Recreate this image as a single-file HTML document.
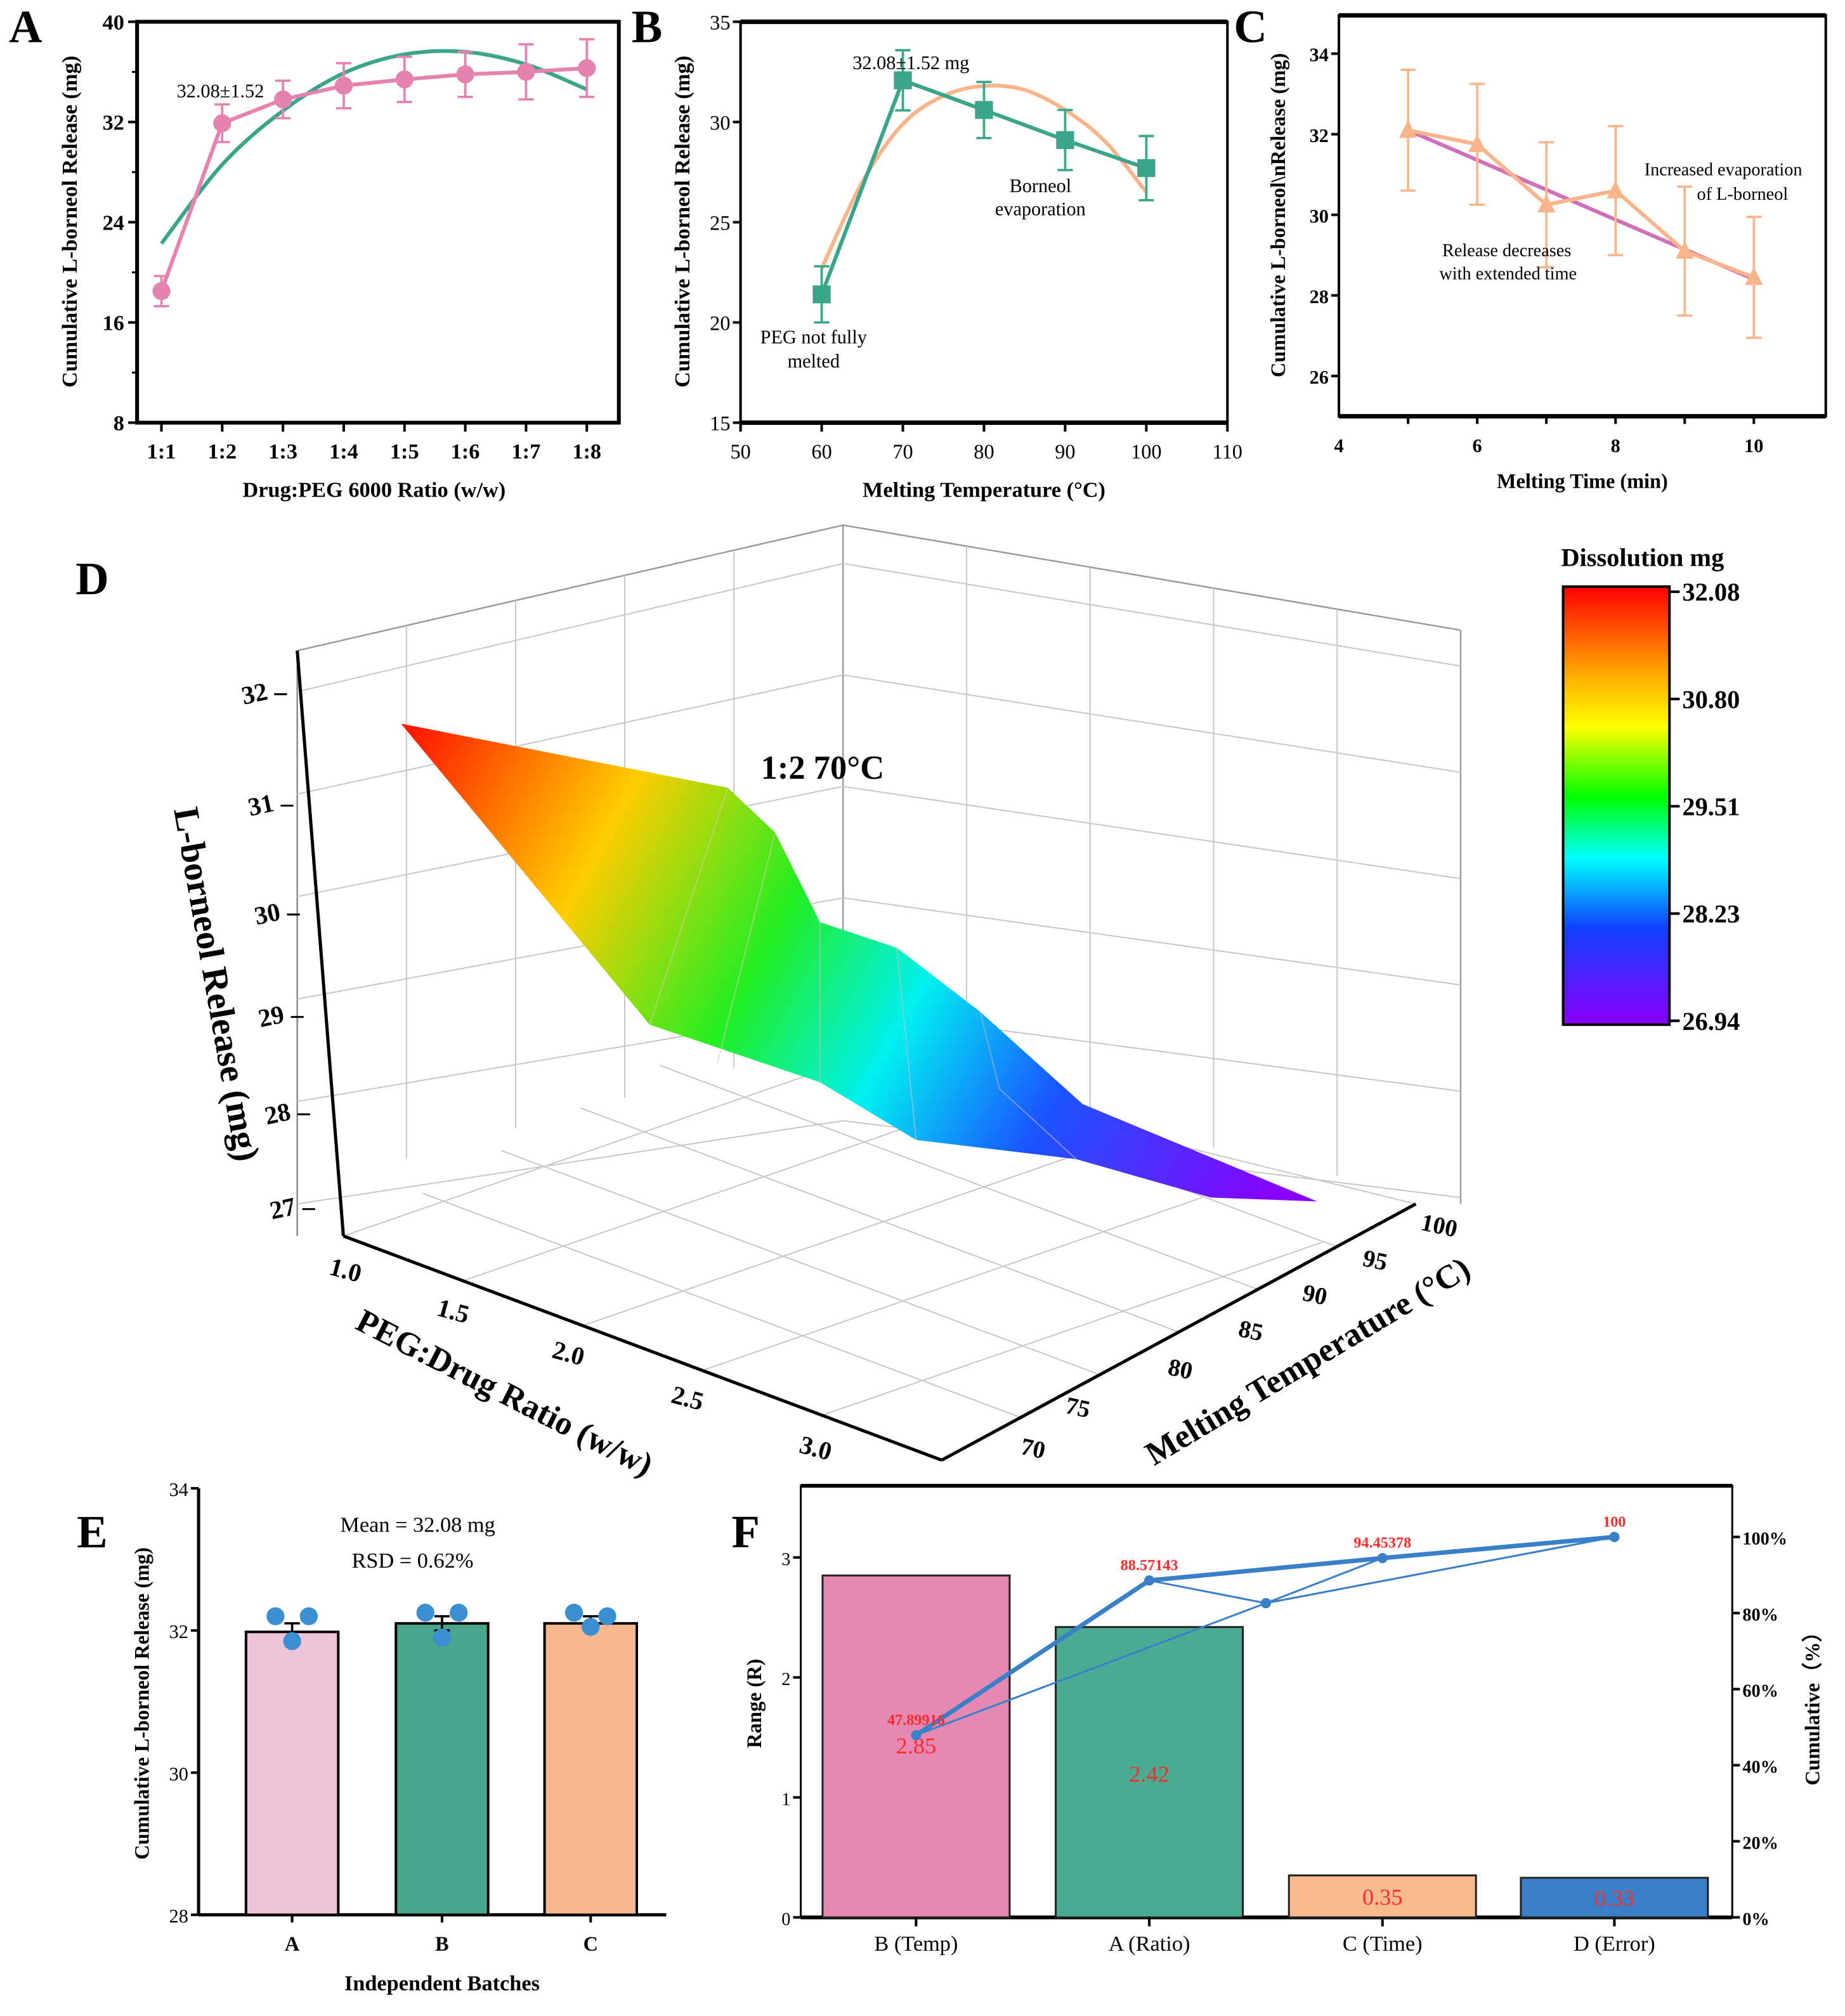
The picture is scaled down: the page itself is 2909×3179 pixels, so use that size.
<!DOCTYPE html>
<html><head><meta charset="utf-8"><style>
html,body{margin:0;padding:0;background:#fff;}
svg{display:block;font-family:"Liberation Serif",serif;}
</style></head><body>
<svg id="fig" width="2909" height="3179" viewBox="0 0 1440 1574" preserveAspectRatio="none" xmlns="http://www.w3.org/2000/svg">
<defs>
<linearGradient id="surfGrad" x1="330" y1="560" x2="1000" y2="930" gradientUnits="userSpaceOnUse">
<stop offset="0" stop-color="#ff1a00"/><stop offset="0.22" stop-color="#ffcc00"/><stop offset="0.42" stop-color="#22ee22"/><stop offset="0.58" stop-color="#00f0f0"/><stop offset="0.75" stop-color="#1a55ff"/><stop offset="1" stop-color="#8a00ff"/>
</linearGradient>
<linearGradient id="cbGrad" x1="0" y1="0" x2="0" y2="1">
<stop offset="0" stop-color="#ff0000"/><stop offset="0.2" stop-color="#ffaa00"/><stop offset="0.32" stop-color="#ffff00"/><stop offset="0.48" stop-color="#00ff00"/><stop offset="0.62" stop-color="#00ffff"/><stop offset="0.78" stop-color="#1040ff"/><stop offset="1" stop-color="#8a00ff"/>
</linearGradient>
</defs>
</svg>
<script>
// ---------- DATA ----------
var aCats = ["1:1","1:2","1:3","1:4","1:5","1:6","1:7","1:8"];
var aVals = [18.5,31.9,33.8,34.9,35.4,35.8,36.0,36.3];
var aErrs = [1.2,1.5,1.5,1.8,1.8,1.8,2.2,2.3];
var aFit = [22.3,28.6,32.9,35.9,37.4,37.6,36.6,34.6];
var aTicks = [8,16,24,32,40];

var bX = [60,70,80,90,100];
var bVals = [21.4,32.08,30.6,29.1,27.7];
var bErrs = [1.4,1.5,1.4,1.5,1.6];
var bFitX = [60,65,70,75,80,85,90,95,100];
var bFit = [22.7,27.0,29.9,31.3,31.8,31.6,30.6,29.0,26.5];
var bXTicks = [50,60,70,80,90,100,110];
var bYTicks = [15,20,25,30,35];

var cX = [5,6,7,8,9,10];
var cVals = [32.1,31.75,30.25,30.6,29.1,28.45];
var cErrs = [1.5,1.5,1.55,1.6,1.6,1.5];
var cFit = [32.1,28.4];
var cXTicks = [4,6,8,10];
var cYTicks = [26,28,30,32,34];

var eCats = ["A","B","C"];
var eVals = [31.98,32.1,32.1];
var eErrs = [0.12,0.1,0.1];
var eDots = [[32.2,32.2,31.85],[32.25,32.25,31.9],[32.25,32.2,32.05]];
var eTicks = [28,30,32,34];

var fCats = ["B (Temp)","A (Ratio)","C (Time)","D (Error)"];
var fVals = [2.85,2.42,0.35,0.33];
var fCum = [47.89916,88.57143,94.45378,100];
var fCumLabels = ["47.89916","88.57143","94.45378","100"];
var fYTicks = [0,1,2,3];
var fRTicks = [0,20,40,60,80,100];

var cbTicks = ["32.08","30.80","29.51","28.23","26.94"];

// ---------- HELPERS ----------
var svg = document.getElementById('fig');
var NS = "http://www.w3.org/2000/svg";
function mk(tag, attrs, name, parent){
  var el = document.createElementNS(NS, tag);
  for (var k in attrs) el.setAttribute(k, attrs[k]);
  
  
  (parent||svg).appendChild(el);
  return el;
}
function txt(x,y,s,size,name,opt){
  opt = opt||{};
  var a = {x:x,y:y,'font-size':size,'text-anchor':opt.anchor||'middle',fill:opt.fill||'#000'};
  if (opt.bold) a['font-weight']='bold';
  if (opt.rot!==undefined) a.transform='rotate('+opt.rot+' '+x+' '+y+')';
  var t = mk('text', a, name);
  t.textContent = s;
  return t;
}
function line(x1,y1,x2,y2,stroke,w,name){ return mk('line',{x1:x1,y1:y1,x2:x2,y2:y2,stroke:stroke,'stroke-width':w},name); }
function lin(d0,d1,p0,p1){ return function(v){ return p0+(v-d0)/(d1-d0)*(p1-p0); }; }
function smooth(pts){
  var d='M'+pts[0][0]+','+pts[0][1];
  for (var i=0;i<pts.length-1;i++){
    var p0=pts[Math.max(0,i-1)],p1=pts[i],p2=pts[i+1],p3=pts[Math.min(pts.length-1,i+2)];
    d+=' C'+(p1[0]+(p2[0]-p0[0])/6)+','+(p1[1]+(p2[1]-p0[1])/6)+' '+(p2[0]-(p3[0]-p1[0])/6)+','+(p2[1]-(p3[1]-p1[1])/6)+' '+p2[0]+','+p2[1];
  }
  return d;
}
function errbar(x,y1,y2,col,name){
  line(x,y1,x,y2,col,1.8,name);
  line(x-6,y1,x+6,y1,col,1.8,name+'-cap-top');
  line(x-6,y2,x+6,y2,col,1.8,name+'-cap-bottom');
}

// ---------- PANEL A ----------
(function(){
  var L=107,R=483,T=17,B=330;
  var sy=lin(8,40,B,T);
  var sx=function(i){ return 126+i*(458-126)/7; };
  mk('rect',{x:L,y:T,width:R-L,height:B-T,fill:'none',stroke:'#000','stroke-width':3},'panel-a-frame');
  aTicks.forEach(function(v){ line(L-7,sy(v),L,sy(v),'#000',2,'a-y-tick'); txt(L-10,sy(v)+6,String(v),17,'a-y-tick-label',{anchor:'end',bold:true}); });
  for (var v=12; v<40; v+=8){ line(L-4,sy(v),L,sy(v),'#000',1.5,'a-y-minor-tick'); }
  aCats.forEach(function(c,i){ line(sx(i),B,sx(i),B+7,'#000',2,'a-x-tick'); txt(sx(i),B+28,c,17,'a-x-tick-label',{bold:true}); });
  mk('path',{d:smooth(aFit.map(function(v,i){return [sx(i),sy(v)];})),fill:'none',stroke:'#3aa58a','stroke-width':3},'a-fit-curve');
  mk('polyline',{points:aVals.map(function(v,i){return sx(i)+','+sy(v);}).join(' '),fill:'none',stroke:'#e582b0','stroke-width':3},'a-data-line');
  aVals.forEach(function(v,i){
    errbar(sx(i),sy(v+aErrs[i]),sy(v-aErrs[i]),'#e582b0','a-error-bar');
    mk('circle',{cx:sx(i),cy:sy(v),r:7,fill:'#e582b0'},'a-point');
  });
  txt(172,76,'32.08±1.52',15,'a-annotation');
  txt(20,33,'A',36,'panel-a-letter',{bold:true});
  txt(60,173,'Cumulative L-borneol Release (mg)',17,'a-y-axis-title',{bold:true,rot:-90});
  txt(292,388,'Drug:PEG 6000 Ratio (w/w)',17,'a-x-axis-title',{bold:true});
})();

// ---------- PANEL B ----------
(function(){
  var L=578,R=958,T=17,B=330;
  var sx=lin(50,110,L,R), sy=lin(15,35,B,T);
  mk('rect',{x:L,y:T,width:R-L,height:B-T,fill:'none',stroke:'#000','stroke-width':2},'panel-b-frame');
  line(L,T,R,T,'#000',3.5,'b-top-border'); line(L,B,R,B,'#000',3.5,'b-bottom-border');
  bYTicks.forEach(function(v){ line(L-6,sy(v),L,sy(v),'#000',2,'b-y-tick'); txt(L-8,sy(v)+6,String(v),16,'b-y-tick-label',{anchor:'end'}); });
  bXTicks.forEach(function(v){ line(sx(v),B,sx(v),B+7,'#000',2,'b-x-tick'); txt(sx(v),B+28,String(v),16,'b-x-tick-label'); });
  mk('path',{d:smooth(bFitX.map(function(x,i){return [sx(x),sy(bFit[i])];})),fill:'none',stroke:'#f8b48a','stroke-width':3},'b-fit-curve');
  mk('polyline',{points:bX.map(function(x,i){return sx(x)+','+sy(bVals[i]);}).join(' '),fill:'none',stroke:'#3aa58a','stroke-width':3},'b-data-line');
  bX.forEach(function(x,i){
    errbar(sx(x),sy(bVals[i]+bErrs[i]),sy(bVals[i]-bErrs[i]),'#3aa58a','b-error-bar');
    mk('rect',{x:sx(x)-7,y:sy(bVals[i])-7,width:14,height:14,fill:'#3aa58a'},'b-point');
  });
  txt(711,54,'32.08±1.52 mg',15,'b-annotation-peak');
  txt(812,150,'Borneol',15,'b-annotation-evap');
  txt(812,168,'evaporation',15,'b-annotation-evap-2');
  txt(635,268,'PEG not fully',15,'b-annotation-peg');
  txt(635,287,'melted',15,'b-annotation-peg-2');
  txt(505,33,'B',36,'panel-b-letter',{bold:true});
  txt(538,173,'Cumulative L-borneol Release (mg)',17,'b-y-axis-title',{bold:true,rot:-90});
  txt(768,388,'Melting Temperature (°C)',17,'b-x-axis-title',{bold:true});
})();

// ---------- PANEL C ----------
(function(){
  var L=1045,R=1425,T=12,B=325;
  var sx=lin(4,11.04,L,R), sy=lin(25,34.95,B,T);
  mk('rect',{x:L,y:T,width:R-L,height:B-T,fill:'none',stroke:'#000','stroke-width':2},'panel-c-frame');
  line(L,T,R,T,'#000',3.5,'c-top-border'); line(L,B,R,B,'#000',3.5,'c-bottom-border');
  cYTicks.forEach(function(v){ line(L-6,sy(v),L,sy(v),'#000',2,'c-y-tick'); txt(L-8,sy(v)+6,String(v),15,'c-y-tick-label',{anchor:'end',bold:true}); });
  for (var t=5;t<=10;t++){ line(sx(t),B,sx(t),B+6,'#000',2,'c-x-tick'); }
  cXTicks.forEach(function(v){ txt(sx(v),B+28,String(v),15,'c-x-tick-label',{bold:true}); });
  line(sx(cX[0]),sy(cFit[0]),sx(cX[cX.length-1]),sy(cFit[1]),'#d070b8',3,'c-fit-line');
  mk('polyline',{points:cX.map(function(x,i){return sx(x)+','+sy(cVals[i]);}).join(' '),fill:'none',stroke:'#f8b48a','stroke-width':3},'c-data-line');
  cX.forEach(function(x,i){
    errbar(sx(x),sy(cVals[i]+cErrs[i]),sy(cVals[i]-cErrs[i]),'#f8b48a','c-error-bar');
    var px=sx(x),py=sy(cVals[i]);
    mk('polygon',{points:px+','+(py-8)+' '+(px-7)+','+(py+6)+' '+(px+7)+','+(py+6),fill:'#f8b48a'},'c-point');
  });
  txt(1345,137,'Increased evaporation',14,'c-annotation-evap');
  txt(1360,156,'of L-borneol',14,'c-annotation-evap-2');
  txt(1176,200,'Release decreases',14,'c-annotation-release');
  txt(1177,218,'with extended time',14,'c-annotation-release-2');
  txt(976,33,'C',36,'panel-c-letter',{bold:true});
  txt(1003,168,'Cumulative L-borneol\\nRelease (mg)',16,'c-y-axis-title',{bold:true,rot:-90});
  txt(1235,381,'Melting Time (min)',16,'c-x-axis-title',{bold:true});
})();

// ---------- PANEL D (3D surface) ----------
(function(){
  var g='#c8c8c8';
  mk('polyline',{points:'232,508 658,410 1140,492',fill:'none',stroke:'#999','stroke-width':1.2},'d-top-edges');
  line(232,508,232,965,'#888',1.2,'d-left-wall-edge');
  line(658,410,658,830,'#999',1.2,'d-back-corner-edge');
  line(1140,492,1140,940,'#999',1.2,'d-right-wall-edge');
  line(268,965,658,830,g,1,'d-floor-back-left');
  line(658,830,1105,940,g,1,'d-floor-back-right');
  for (var i=1;i<5;i++){ var x=232+(658-232)*i/5; var yt=508+(410-508)*i/5; line(x,yt,x,yt+420-i*4,g,1,'d-left-wall-grid-v'); }
  for (var j=0;j<6;j++){ var yy=540+j*80; line(232,yy,658,yy-100+j*7,g,1,'d-left-wall-grid-h'); line(658,yy-100+j*7,1140,yy-20+j*3,g,1,'d-right-wall-grid-h'); }
  for (var k=1;k<5;k++){ var xr=658+(1140-658)*k/5; line(xr,410+82*k/5,xr,830+110*k/5,g,1,'d-right-wall-grid-v'); }
  for (var m=1;m<5;m++){ var fx=268+(735-268)*m/5, fy=965+(1140-965)*m/5; line(fx,fy,fx+390,fy-135,g,1,'d-floor-grid-a'); }
  for (var n=1;n<6;n++){ var hx=735+(1105-735)*n/6, hy=1140+(940-1140)*n/6; line(hx,hy,hx-467,hy-175,g,1,'d-floor-grid-b'); }
  line(268,965,735,1140,'#000',2.5,'d-ratio-axis');
  line(735,1140,1105,940,'#000',2.5,'d-temp-axis');
  line(232,508,268,965,'#000',2.5,'d-z-axis');
  mk('polygon',{points:'313,565 568,615 605,650 640,720 700,740 765,790 845,862 1028,938 945,935 840,905 715,890 640,845 507,800',fill:'url(#surfGrad)',stroke:'none'},'d-surface');
  mk('polyline',{points:'568,615 507,800',fill:'none',stroke:'#d0d0a0','stroke-width':0.8,opacity:0.7},'d-surface-mesh');
  mk('polyline',{points:'605,650 560,830',fill:'none',stroke:'#d0d0a0','stroke-width':0.8,opacity:0.7},'d-surface-mesh');
  mk('polyline',{points:'640,720 640,845',fill:'none',stroke:'#c0c0c0','stroke-width':0.8,opacity:0.7},'d-surface-mesh');
  mk('polyline',{points:'700,740 715,890',fill:'none',stroke:'#c0c0d0','stroke-width':0.8,opacity:0.7},'d-surface-mesh');
  mk('polyline',{points:'765,790 780,850 840,905',fill:'none',stroke:'#c0b0d0','stroke-width':0.8,opacity:0.7},'d-surface-mesh');
  var zt=['32','31','30','29','28','27'], zp=[[200,548],[205,635],[210,720],[213,800],[218,876],[222,950]];
  zt.forEach(function(s,i){ txt(zp[i][0],zp[i][1],s,20,'d-z-tick-label',{bold:true,rot:-12}); line(zp[i][0]+14,zp[i][1]-6,zp[i][0]+24,zp[i][1]-6,'#000',1.5,'d-z-tick'); });
  var rt=['1.0','1.5','2.0','2.5','3.0'], rp=[[268,998],[352,1030],[442,1063],[535,1098],[635,1137]];
  rt.forEach(function(s,i){ txt(rp[i][0],rp[i][1],s,20,'d-ratio-tick-label',{bold:true,rot:15}); });
  var tt=['70','75','80','85','90','95','100'], tp=[[805,1137],[840,1105],[920,1075],[975,1045],[1025,1017],[1072,990],[1122,963]];
  tt.forEach(function(s,i){ txt(tp[i][0],tp[i][1],s,19,'d-temp-tick-label',{bold:true,rot:12}); });
  txt(160,770,'L-borneol Release (mg)',28,'d-z-axis-title',{bold:true,rot:80});
  txt(390,1095,'PEG:Drug Ratio (w/w)',26,'d-ratio-axis-title',{bold:true,rot:27});
  txt(1025,1070,'Melting Temperature (°C)',26,'d-temp-axis-title',{bold:true,rot:-31});
  txt(642,608,'1:2  70°C',26,'d-optimum-label',{bold:true});
  txt(72,464,'D',36,'panel-d-letter',{bold:true});
  mk('rect',{x:1220,y:458,width:83,height:342,fill:'url(#cbGrad)',stroke:'#000','stroke-width':2},'d-colorbar');
  cbTicks.forEach(function(s,i){ var y=462+i*(797-462)/4; line(1303,y,1311,y,'#000',2,'d-colorbar-tick'); txt(1313,y+7,s,20,'d-colorbar-label',{anchor:'start',bold:true}); });
  txt(1282,442,'Dissolution mg',20,'d-colorbar-title',{bold:true});
})();

// ---------- PANEL E ----------
(function(){
  var L=155,R=520,T=1162,B=1495;
  var sy=lin(28,34,B,T);
  var cx=[228,345,461], cols=['#f0c4d8','#4aa58f','#f8b88f'];
  line(L,T,L,B,'#000',2.5,'e-y-axis'); line(L,B,R,B,'#000',2.5,'e-x-axis');
  eTicks.forEach(function(v){ line(L-6,sy(v),L,sy(v),'#000',2,'e-y-tick'); txt(L-8,sy(v)+6,String(v),15,'e-y-tick-label',{anchor:'end'}); });
  eCats.forEach(function(c,i){
    mk('rect',{x:cx[i]-36,y:sy(eVals[i]),width:72,height:B-sy(eVals[i]),fill:cols[i],stroke:'#000','stroke-width':2},'e-bar-'+c);
    errbar(cx[i],sy(eVals[i]+eErrs[i]),sy(eVals[i]-eErrs[i]),'#000','e-error-bar');
    var offs=[-13,13,0];
    eDots[i].forEach(function(d,j){ mk('circle',{cx:cx[i]+offs[j],cy:sy(d),r:7,fill:'#3a8fd0'},'e-data-dot'); });
    line(cx[i],B,cx[i],B+6,'#000',2,'e-x-tick');
    txt(cx[i],B+28,c,16,'e-x-tick-label',{bold:true});
  });
  txt(326,1196,'Mean = 32.08 mg',17,'e-mean-text');
  txt(322,1224,'RSD = 0.62%',17,'e-rsd-text');
  txt(72,1208,'E',36,'panel-e-letter',{bold:true});
  txt(116,1330,'Cumulative L-borneol Release (mg)',16,'e-y-axis-title',{bold:true,rot:-90});
  txt(345,1554,'Independent Batches',17,'e-x-axis-title',{bold:true});
})();

// ---------- PANEL F ----------
(function(){
  var L=625,R=1352,T=1160,B=1497;
  var sy=lin(0,3,B,1216), sr=lin(0,100,B,1200);
  var cx=[715,897,1079,1260], cols=['#e589b2','#4aab93','#f9bb8e','#3a80c8'];
  mk('rect',{x:L,y:T,width:R-L,height:B-T,fill:'none',stroke:'#000','stroke-width':1.5},'panel-f-frame');
  line(L,T,R,T,'#000',3,'f-top-border'); line(L,B,R,B,'#000',3,'f-bottom-border');
  fYTicks.forEach(function(v){ line(L-6,sy(v),L,sy(v),'#000',2,'f-y-tick'); txt(L-8,sy(v)+6,String(v),14,'f-y-tick-label',{anchor:'end'}); });
  fRTicks.forEach(function(v){ line(R,sr(v),R+6,sr(v),'#000',2,'f-right-tick'); txt(R+8,sr(v)+6,v+'%',14,'f-right-tick-label',{anchor:'start',bold:true}); });
  fCats.forEach(function(c,i){
    mk('rect',{x:cx[i]-73,y:sy(fVals[i]),width:146,height:B-sy(fVals[i]),fill:cols[i],stroke:'#222','stroke-width':1.5},'f-bar-'+i);
    line(cx[i],B,cx[i],B+7,'#000',2,'f-x-tick');
    txt(cx[i],B+26,c,17,'f-x-tick-label');
  });
  txt(cx[0],1369,fVals[0].toFixed(2),18,'f-bar-value',{fill:'#ff2a2a'});
  txt(cx[1],1391,fVals[1].toFixed(2),18,'f-bar-value',{fill:'#ff2a2a'});
  txt(cx[2],1487,fVals[2].toFixed(2),18,'f-bar-value',{fill:'#ff2a2a'});
  txt(cx[3],1488,fVals[3].toFixed(2),18,'f-bar-value',{fill:'#ff2a2a'});
  var mid=(cx[1]+cx[2])/2, midY=sr(82.6);
  mk('polyline',{points:cx[0]+','+sr(fCum[0])+' '+mid+','+midY+' '+cx[3]+','+sr(fCum[3]),fill:'none',stroke:'#3a80c8','stroke-width':1.5},'f-thin-line');
  mk('polyline',{points:cx[1]+','+sr(fCum[1])+' '+mid+','+midY+' '+cx[2]+','+sr(fCum[2]),fill:'none',stroke:'#3a80c8','stroke-width':1.5},'f-thin-line-2');
  mk('polyline',{points:fCum.map(function(v,i){return cx[i]+','+sr(v);}).join(' '),fill:'none',stroke:'#3a80c8','stroke-width':3.5},'f-cumulative-line');
  fCum.forEach(function(v,i){
    mk('circle',{cx:cx[i],cy:sr(v),r:4,fill:'#3a80c8'},'f-cumulative-point');
    txt(cx[i],sr(v)-8,fCumLabels[i],12,'f-cumulative-label',{fill:'#ff2a2a',bold:true});
  });
  mk('circle',{cx:mid,cy:midY,r:4,fill:'#3a80c8'},'f-thin-point');
  txt(582,1208,'F',36,'panel-f-letter',{bold:true});
  txt(594,1330,'Range (R)',16,'f-y-axis-title',{bold:true,rot:-90});
  txt(1420,1330,'Cumulative（%）',16,'f-right-axis-title',{bold:true,rot:-90});
})();
</script>
</body></html>
